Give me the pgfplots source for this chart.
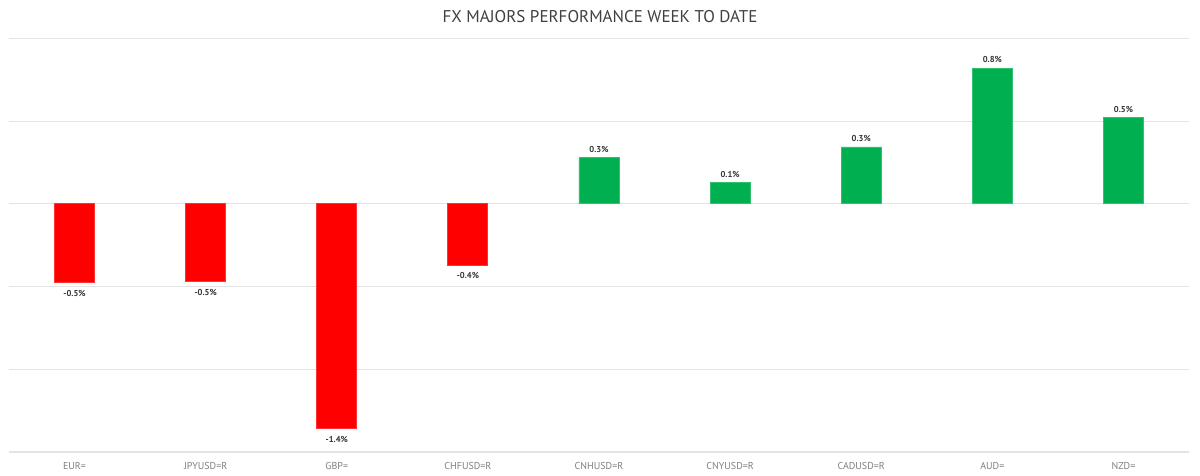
\documentclass[border=0pt]{standalone}
\usepackage{fontspec}
\setmainfont{PT Sans}
\usepackage{pgfplots}
\pgfplotsset{compat=1.18}
\definecolor{fxred}{HTML}{FF0000}
\definecolor{fxgreen}{HTML}{00B050}
\definecolor{gridgray}{HTML}{E3E3E3}
\definecolor{ticktext}{HTML}{7F7F7F}
\definecolor{titletext}{HTML}{404040}

\begin{document}
\begin{tikzpicture}
\useasboundingbox (0,0) rectangle (600pt,238pt);
\begin{axis}[
    at={(4.5pt,12pt)}, anchor=south west,
    scale only axis,
    width=590pt, height=206.75pt,
    ybar, bar width=20pt, bar shift=0pt,
    xmin=-0.5, xmax=8.5,
    ymin=-1.5, ymax=1.0,
    axis line style={draw=none},
    tick style={draw=none},
    ytick={-1.5,-1,-0.5,0,0.5,1},
    yticklabels={},
    ymajorgrids, grid style={gridgray, line width=0.6pt},
    xtick={0,...,8},
    xticklabels={EUR=, JPYUSD=R, GBP=, CHFUSD=R, CNHUSD=R, CNYUSD=R, CADUSD=R, AUD=, NZD=},
    xticklabel style={font=\fontsize{5}{6}\selectfont, text=ticktext, yshift=-1.5pt},
    major tick length=0pt,
    point meta=explicit symbolic,
    nodes near coords,
    every node near coord/.append style={font=\fontsize{4.3}{5}\selectfont\bfseries, text=black!80},
]
\addplot[fill=fxred, draw=fxred!80,
    every node near coord/.append style={anchor=north, inner sep=3.5pt}] coordinates {
    (0,-0.475) [-0.5\%]
    (1,-0.47)  [-0.5\%]
    (2,-1.36)  [-1.4\%]
    (3,-0.37)  [-0.4\%]
};
\addplot[fill=fxgreen, draw=fxgreen!80,
    every node near coord/.append style={anchor=south, inner sep=2.5pt}] coordinates {
    (4,0.28)  [0.3\%]
    (5,0.127) [0.1\%]
    (6,0.344) [0.3\%]
    (7,0.82)  [0.8\%]
    (8,0.52)  [0.5\%]
};
\end{axis}
\node[font=\fontsize{8.5}{10}\selectfont, text=titletext] at (300pt,229.5pt) {FX MAJORS PERFORMANCE WEEK TO DATE};
\end{tikzpicture}
\end{document}
